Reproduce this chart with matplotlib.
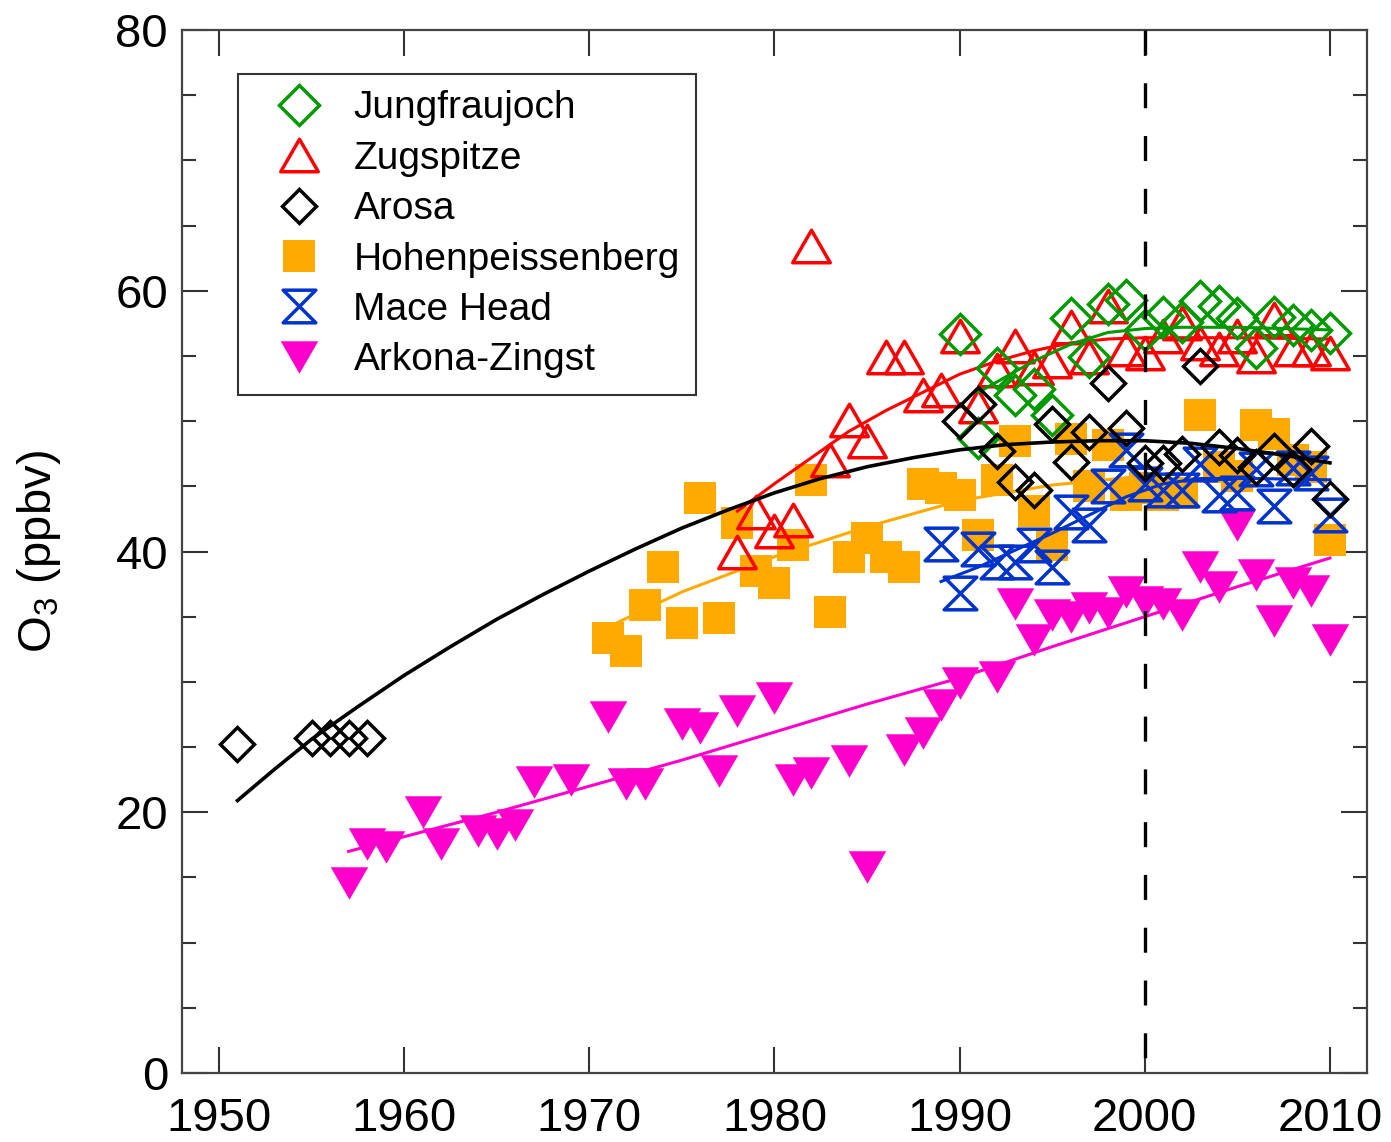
import numpy as np
import matplotlib
matplotlib.use("Agg")
import matplotlib.pyplot as plt
from matplotlib.path import Path
from matplotlib.lines import Line2D
from matplotlib.ticker import MultipleLocator

plt.rcParams['font.family'] = ['Liberation Sans', 'DejaVu Sans']
plt.rcParams['mathtext.fontset'] = 'custom'
plt.rcParams['mathtext.rm'] = 'Liberation Sans'
plt.rcParams['mathtext.it'] = 'Liberation Sans'
plt.rcParams['lines.scale_dashes'] = False

# ---- station annual means (ppbv) ----
arosa_years = [1951, 1955, 1956, 1957, 1958] + list(range(1990, 2011))
arosa = [25.2, 25.7, 25.7, 25.7, 25.7,
         50.0, 51.3, 47.7, 45.3, 44.7, 49.8, 46.9, 49.2, 52.9, 49.5,
         46.8, 46.8, 47.5, 54.2, 48.0, 47.4, 46.5, 47.7, 46.3, 48.1, 44.0]

jungfrau_years = list(range(1990, 2011))
jungfrau = [56.7, 48.7, 54.1, 52.0, 52.5, 50.5, 57.9, 54.9, 59.0, 59.3,
            57.0, 58.0, 57.6, 59.2, 58.8, 57.9, 55.6, 58.0, 57.4, 57.0, 56.8]

zugspitze_years = list(range(1978, 2011))
zugspitze = [40.0, 43.0, 41.6, 42.4, 63.4, 47.0, 50.1, 48.5, 54.9, 54.9,
             52.0, 52.4, 56.5, 51.2, 53.9, 55.8, 54.1, 54.6, 57.2, 54.9,
             58.8, 55.5, 55.2, 56.5, 57.5, 56.0, 55.5, 56.5, 55.0, 57.8,
             55.5, 55.5, 55.2]

hohen_years = list(range(1971, 2011))
hohen = [33.4, 32.4, 35.9, 38.8, 34.5, 44.1, 34.9, 42.2, 38.5, 37.6,
         40.5, 45.5, 35.4, 39.6, 41.0, 39.6, 38.8, 45.2, 44.9, 44.3,
         41.3, 45.5, 48.5, 43.1, 40.5, 48.6, 45.0, 48.2, 44.3, 44.9,
         44.3, 44.5, 50.5, 46.5, 45.8, 49.7, 49.0, 47.0, 46.5, 40.9]

mace_years = list(range(1989, 2011))
mace = [40.6, 36.8, 40.2, 39.2, 39.2, 40.5, 38.8, 43.0, 42.0, 45.0,
        47.8, 45.2, 44.7, 44.7, 46.7, 44.3, 44.5, 46.3, 43.5, 46.4,
        46.0, 42.8]

arkona_years = [1957, 1958, 1959, 1961, 1962, 1964, 1965, 1966, 1967, 1969,
                1971, 1972, 1973, 1975, 1976, 1977, 1978, 1980, 1981, 1982,
                1984, 1985, 1987, 1988, 1989, 1990, 1992, 1993, 1994, 1995,
                1996, 1997, 1998, 1999, 2000, 2001, 2002, 2003, 2004, 2005,
                2006, 2007, 2008, 2009, 2010]
arkona = [14.6, 17.6, 17.3, 20.0, 17.6, 18.6, 18.3, 19.0, 22.3, 22.5,
          27.3, 22.2, 22.2, 26.8, 26.5, 23.2, 27.8, 28.8, 22.5, 23.0,
          23.9, 15.8, 24.8, 26.1, 28.2, 29.9, 30.4, 36.0, 33.2, 35.1,
          35.0, 35.7, 35.3, 36.9, 36.1, 36.0, 35.1, 38.8, 37.3, 42.0,
          38.2, 34.7, 37.6, 37.0, 33.2]

# ---- fitted trend curves ----
fit_all_years = [1951, 1953, 1955, 1957.5, 1960, 1962.5, 1965, 1967.5, 1970,
                 1972.5, 1975, 1977.5, 1980, 1982.5, 1985, 1987.5, 1990,
                 1992.5, 1995, 1997.5, 2000, 2002.5, 2005, 2007.5, 2010]
fit_all = [20.9, 23.3, 25.6, 28.1, 30.5, 32.7, 34.8, 36.7, 38.5,
           40.2, 41.8, 43.2, 44.5, 45.6, 46.5, 47.2, 47.8,
           48.2, 48.4, 48.5, 48.5, 48.3, 47.9, 47.4, 46.8]

fit_zug_years = [1978, 1980, 1982, 1984, 1986, 1988, 1990, 1992, 1994, 1996, 1998, 2000, 2005, 2010]
fit_zug = [43.1, 45.2, 47.2, 49.2, 50.8, 52.2, 53.6, 54.6, 55.4, 56.0, 56.3, 56.4, 56.4, 56.3]

fit_jf_years = [1991, 1992, 1994, 1996, 1998, 2000, 2002, 2005, 2010]
fit_jf = [52.2, 53.0, 54.6, 55.9, 56.8, 57.1, 57.2, 57.2, 57.0]

fit_hp_years = [1971, 1975, 1980, 1985, 1990, 1995, 2000]
fit_hp = [34.2, 36.9, 39.6, 41.9, 43.9, 45.1, 45.8]

fit_mh_years = [1989, 1991, 1993, 1995, 1997, 1999, 2001, 2003, 2006, 2010]
fit_mh = [37.7, 38.8, 40.1, 41.4, 42.8, 44.2, 45.2, 45.6, 45.6, 45.5]

fit_az_years = [1957, 1965, 1975, 1985, 1990, 1995, 2000, 2005, 2010]
fit_az = [17.0, 20.0, 24.0, 28.3, 30.3, 32.7, 35.0, 37.3, 39.5]

# ---- colours ----
c_green = '#009A00'
c_red = '#FF0000'
c_orange = '#FFAA00'
c_blue = '#0033CC'
c_mag = '#FF00CC'

# ---- marker shapes ----
tri_up = Path([(0, 0.866), (-1, -0.866), (1, -0.866), (0, 0.866)],
              [Path.MOVETO, Path.LINETO, Path.LINETO, Path.CLOSEPOLY])
tri_down = Path([(0, -0.866), (-1, 0.866), (1, 0.866), (0, -0.866)],
                [Path.MOVETO, Path.LINETO, Path.LINETO, Path.CLOSEPOLY])
hourglass = Path([(-1, 1), (1, 1), (-1, -1), (1, -1), (-1, 1)],
                 [Path.MOVETO, Path.LINETO, Path.LINETO, Path.LINETO, Path.CLOSEPOLY])

fig = plt.figure(figsize=(13.91, 11.42), dpi=100)
ax = fig.add_axes([0.1308, 0.0604, 0.8519, 0.9133])

mew = 2.5
st_hp = dict(marker='s', ms=23, mfc=c_orange, mec=c_orange, mew=0, ls='none')
st_az = dict(marker=tri_down, ms=27, mfc=c_mag, mec=c_mag, mew=0, ls='none')
st_mh = dict(marker=hourglass, ms=23.5, mfc='none', mec=c_blue, mew=mew, ls='none')
st_zg = dict(marker=tri_up, ms=27, mfc='none', mec=c_red, mew=mew, ls='none')
st_jf = dict(marker='D', ms=20, mfc='none', mec=c_green, mew=mew, ls='none')
st_ar = dict(marker='D', ms=17, mfc='none', mec='black', mew=mew, ls='none')

ax.plot(hohen_years, hohen, zorder=2, **st_hp)
ax.plot(fit_hp_years, fit_hp, color=c_orange, lw=2.2, zorder=2.1)
ax.plot(arkona_years, arkona, zorder=2.2, **st_az)
ax.plot(fit_az_years, fit_az, color=c_mag, lw=2.2, zorder=2.3)
ax.plot(mace_years, mace, zorder=2.4, **st_mh)
ax.plot(fit_mh_years, fit_mh, color=c_blue, lw=2.2, zorder=2.5)
ax.plot(zugspitze_years, zugspitze, zorder=2.6, **st_zg)
ax.plot(fit_zug_years, fit_zug, color=c_red, lw=2.2, zorder=2.7)
ax.plot(jungfrau_years, jungfrau, zorder=2.8, **st_jf)
ax.plot(fit_jf_years, fit_jf, color=c_green, lw=2.2, zorder=2.9)
ax.plot(arosa_years, arosa, zorder=3.0, **st_ar)
ax.plot(fit_all_years, fit_all, color='black', lw=2.6, zorder=3.1,
        solid_joinstyle='round')

# reference year marker
ax.plot([2000, 2000], [80, 0], color='black', lw=2.4, ls=(0, (18, 20)), zorder=3.2)

ax.set_xlim(1948, 2012)
ax.set_ylim(0, 80)
ax.xaxis.set_major_locator(MultipleLocator(10))
ax.yaxis.set_major_locator(MultipleLocator(20))
ax.yaxis.set_minor_locator(MultipleLocator(5))

ax.tick_params(which='both', direction='in', top=True, right=True,
               width=1.5, color='#333333', labelsize=34)
ax.tick_params(which='major', length=19)
ax.tick_params(which='minor', length=10)
ax.tick_params(axis='x', pad=17)
ax.tick_params(axis='y', pad=10)
for s in ax.spines.values():
    s.set_linewidth(1.6)
    s.set_color('#444444')

ax.set_ylabel('O$_3$ (ppbv)', fontsize=34)
ax.yaxis.set_label_coords(-0.100, 0.5)

handles = [Line2D([], [], **st_jf), Line2D([], [], **st_zg), Line2D([], [], **st_ar),
           Line2D([], [], **st_hp), Line2D([], [], **st_mh), Line2D([], [], **st_az)]
labels = ['Jungfraujoch', 'Zugspitze', 'Arosa', 'Hohenpeissenberg', 'Mace Head', 'Arkona-Zingst']
leg = ax.legend(handles, labels, loc='upper left', bbox_to_anchor=(0.0473, 0.9578),
                borderaxespad=0, fontsize=28, frameon=True, fancybox=False,
                framealpha=1, edgecolor='#333333', labelspacing=0.37,
                handlelength=2.3, handletextpad=0.25, borderpad=0.42, numpoints=1)
leg.get_frame().set_linewidth(1.5)
leg.set_zorder(5)

fig.savefig('out.png', dpi=100)
